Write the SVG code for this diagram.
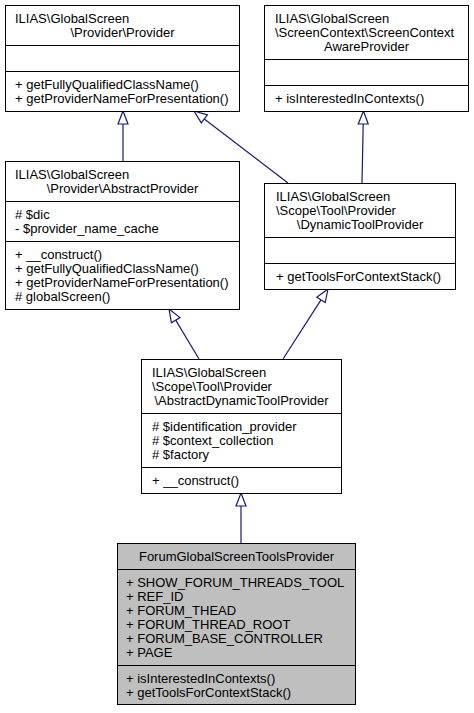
<svg xmlns="http://www.w3.org/2000/svg" width="474" height="713" viewBox="0 0 474 713">
<style>
  .box { fill: #ffffff; stroke: #000000; stroke-width: 1; }
  .focus { fill: #bfbfbf; stroke: #000000; stroke-width: 1; }
  .sep { stroke: #000000; stroke-width: 1; }
  text { font-family: "Liberation Sans", Arial, Helvetica, sans-serif; font-size: 13px; fill: #000000; }
  .c { text-anchor: middle; }
  .edge { stroke: #191970; stroke-width: 1.2; fill: none; }
  .head { stroke: #191970; stroke-width: 1.2; fill: #ffffff; }
</style>
<rect width="474" height="713" fill="#ffffff"/>

<g id="edges">
  <line class="edge" x1="123" y1="161" x2="123" y2="124"/>
  <polygon class="head" points="123,111 118,124 128,124"/>

  <line class="edge" x1="288" y1="183" x2="204.3" y2="118.9"/>
  <polygon class="head" points="194,111 207.4,114.9 201.3,122.9"/>

  <line class="edge" x1="362" y1="183" x2="363.2" y2="124"/>
  <polygon class="head" points="363.5,111 358.2,124 368.2,124"/>

  <line class="edge" x1="199" y1="359" x2="175.7" y2="320.1"/>
  <polygon class="head" points="169,309 180,317.6 171.4,322.7"/>

  <line class="edge" x1="283" y1="359" x2="321" y2="299.9"/>
  <polygon class="head" points="328,289 325.2,302.6 316.8,297.2"/>

  <line class="edge" x1="241" y1="543" x2="241" y2="506"/>
  <polygon class="head" points="241,493 236,506 246,506"/>
</g>

<g id="node-provider">
  <rect class="box" x="5.5" y="5.5" width="234" height="106"/>
  <line class="sep" x1="5.5" y1="45.5" x2="239.5" y2="45.5"/>
  <line class="sep" x1="5.5" y1="71.5" x2="239.5" y2="71.5"/>
  <text x="15" y="22.5">ILIAS\GlobalScreen</text>
  <text class="c" x="122.5" y="36.5">\Provider\Provider</text>
  <text x="15" y="88.5">+ getFullyQualifiedClassName()</text>
  <text x="15" y="102.5">+ getProviderNameForPresentation()</text>
</g>

<g id="node-screencontextawareprovider">
  <rect class="box" x="264.5" y="5.5" width="204" height="106"/>
  <line class="sep" x1="264.5" y1="59.5" x2="468.5" y2="59.5"/>
  <line class="sep" x1="264.5" y1="85.5" x2="468.5" y2="85.5"/>
  <text x="275" y="22.5">ILIAS\GlobalScreen</text>
  <text x="275" y="36.5">\ScreenContext\ScreenContext</text>
  <text class="c" x="366.5" y="50.5">AwareProvider</text>
  <text x="275" y="102.5">+ isInterestedInContexts()</text>
</g>

<g id="node-abstractprovider">
  <rect class="box" x="5.5" y="161.5" width="234" height="148"/>
  <line class="sep" x1="5.5" y1="201.5" x2="239.5" y2="201.5"/>
  <line class="sep" x1="5.5" y1="241.5" x2="239.5" y2="241.5"/>
  <text x="15" y="178.5">ILIAS\GlobalScreen</text>
  <text class="c" x="122.5" y="192.5">\Provider\AbstractProvider</text>
  <text x="15" y="218.5"># $dic</text>
  <text x="15" y="232.5">- $provider_name_cache</text>
  <text x="15" y="258.5">+ __construct()</text>
  <text x="15" y="272.5">+ getFullyQualifiedClassName()</text>
  <text x="15" y="286.5">+ getProviderNameForPresentation()</text>
  <text x="15" y="300.5"># globalScreen()</text>
</g>

<g id="node-dynamictoolprovider">
  <rect class="box" x="264.5" y="183.5" width="191" height="106"/>
  <line class="sep" x1="264.5" y1="237.5" x2="455.5" y2="237.5"/>
  <line class="sep" x1="264.5" y1="263.5" x2="455.5" y2="263.5"/>
  <text x="276" y="200.5">ILIAS\GlobalScreen</text>
  <text x="276" y="214.5">\Scope\Tool\Provider</text>
  <text class="c" x="360" y="228.5">\DynamicToolProvider</text>
  <text x="276" y="280.5">+ getToolsForContextStack()</text>
</g>

<g id="node-abstractdynamictoolprovider">
  <rect class="box" x="141.5" y="359.5" width="200" height="134"/>
  <line class="sep" x1="141.5" y1="413.5" x2="341.5" y2="413.5"/>
  <line class="sep" x1="141.5" y1="467.5" x2="341.5" y2="467.5"/>
  <text x="152" y="376.5">ILIAS\GlobalScreen</text>
  <text x="152" y="390.5">\Scope\Tool\Provider</text>
  <text class="c" x="241.5" y="404.5">\AbstractDynamicToolProvider</text>
  <text x="152" y="430.5"># $identification_provider</text>
  <text x="152" y="444.5"># $context_collection</text>
  <text x="152" y="458.5"># $factory</text>
  <text x="152" y="484.5">+ __construct()</text>
</g>

<g id="node-forumglobalscreentoolsprovider">
  <rect class="focus" x="117.5" y="543.5" width="238" height="161"/>
  <line class="sep" x1="117.5" y1="569.5" x2="355.5" y2="569.5"/>
  <line class="sep" x1="117.5" y1="665.5" x2="355.5" y2="665.5"/>
  <text class="c" x="236.5" y="560.5">ForumGlobalScreenToolsProvider</text>
  <text x="126" y="586.5">+ SHOW_FORUM_THREADS_TOOL</text>
  <text x="126" y="600.5">+ REF_ID</text>
  <text x="126" y="614.5">+ FORUM_THEAD</text>
  <text x="126" y="628.5">+ FORUM_THREAD_ROOT</text>
  <text x="126" y="642.5">+ FORUM_BASE_CONTROLLER</text>
  <text x="126" y="656.5">+ PAGE</text>
  <text x="126" y="682.5">+ isInterestedInContexts()</text>
  <text x="126" y="696.5">+ getToolsForContextStack()</text>
</g>
</svg>
